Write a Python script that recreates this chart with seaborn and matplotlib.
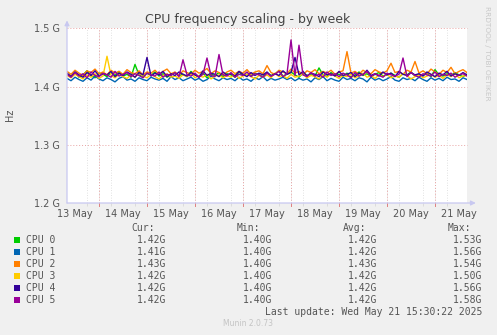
import numpy as np
import pandas as pd
import matplotlib
matplotlib.use("Agg")
import matplotlib.pyplot as plt
import matplotlib.dates as mdates
from matplotlib.patches import Rectangle
from matplotlib.ticker import FixedLocator
import seaborn as sns

# ---------------- data ----------------
cpu_names = ["CPU 0", "CPU 1", "CPU 2", "CPU 3", "CPU 4", "CPU 5"]
cpu_colors = ["#00CC00", "#0066B3", "#FF8000", "#FFCC00", "#330099", "#990099"]

start_time = "2025-05-13 08:00"
end_time = "2025-05-21 16:00"

# MHz, one sample every 2 hours
cpu0 = [1422, 1418, 1425, 1416, 1420, 1427, 1419, 1415, 1423, 1421,
        1417, 1424, 1419, 1426, 1418, 1421, 1416, 1438, 1420, 1417,
        1423, 1419, 1425, 1418, 1422, 1416, 1420, 1424, 1419, 1421,
        1417, 1426, 1420, 1418, 1423, 1415, 1421, 1419, 1424, 1417,
        1422, 1420, 1416, 1425, 1419, 1421, 1418, 1423, 1420, 1417,
        1424, 1419, 1422, 1427, 1418, 1421, 1425, 1420, 1416, 1423,
        1419, 1422, 1418, 1432, 1420, 1417, 1424, 1419, 1421, 1418,
        1423, 1416, 1420, 1425, 1419, 1422, 1417, 1421, 1424, 1418,
        1420, 1423, 1419, 1416, 1422, 1420, 1425, 1418, 1421, 1419,
        1423, 1417, 1429, 1420, 1418, 1422, 1419, 1424, 1420, 1417,
        1421]
cpu1 = [1414, 1410, 1416, 1412, 1409, 1415, 1411, 1418, 1413, 1410,
        1415, 1412, 1408, 1414, 1417, 1411, 1413, 1409, 1415, 1412,
        1410, 1416, 1413, 1411, 1414, 1409, 1417, 1412, 1415, 1410,
        1413, 1416, 1411, 1414, 1409, 1412, 1418, 1413, 1410, 1415,
        1412, 1414, 1410, 1416, 1411, 1413, 1409, 1415, 1412, 1417,
        1410, 1414, 1411, 1413, 1416, 1412, 1415, 1410, 1414, 1411,
        1413, 1408, 1415, 1412, 1417, 1410, 1414, 1411, 1409, 1416,
        1412, 1414, 1410, 1415, 1413, 1408, 1416, 1411, 1414, 1410,
        1413, 1417, 1411, 1409, 1415, 1412, 1414, 1410, 1416, 1412,
        1409, 1415, 1411, 1414, 1410, 1416, 1412, 1413, 1409, 1415,
        1412]
cpu2 = [1426, 1421, 1428, 1423, 1419, 1427, 1424, 1430, 1422, 1425,
        1420, 1428, 1423, 1426, 1421, 1429, 1424, 1422, 1427, 1420,
        1425, 1423, 1428, 1421, 1426, 1430, 1422, 1425, 1419, 1427,
        1424, 1421, 1428, 1423, 1426, 1431, 1422, 1427, 1424, 1420,
        1425, 1428, 1422, 1426, 1423, 1429, 1421, 1425, 1427, 1422,
        1436, 1424, 1421, 1428, 1425, 1422, 1430, 1423, 1426, 1420,
        1427, 1424, 1429, 1422, 1426, 1423, 1428, 1421, 1425, 1427,
        1460, 1423, 1426, 1421, 1428, 1424, 1422, 1429, 1425, 1423,
        1427, 1440, 1424, 1426, 1421, 1428, 1425, 1443, 1423, 1427,
        1422, 1430, 1425, 1421, 1428, 1424, 1433, 1422, 1426, 1429,
        1424]
cpu3 = [1419, 1415, 1421, 1417, 1413, 1420, 1416, 1422, 1414, 1418,
        1452, 1419, 1415, 1421, 1417, 1414, 1420, 1416, 1423, 1418,
        1415, 1421, 1417, 1413, 1419, 1422, 1416, 1418, 1414, 1420,
        1417, 1423, 1415, 1419, 1416, 1421, 1413, 1418, 1420, 1415,
        1419, 1416, 1422, 1414, 1418, 1421, 1417, 1413, 1419, 1416,
        1420, 1415, 1423, 1417, 1419, 1414, 1421, 1416, 1418, 1422,
        1415, 1419, 1417, 1413, 1420, 1416, 1422, 1418, 1414, 1419,
        1417, 1421, 1415, 1418, 1423, 1416, 1419, 1414, 1420, 1417,
        1421, 1415, 1418, 1416, 1422, 1419, 1413, 1417, 1420, 1415,
        1418, 1421, 1416, 1419, 1414, 1420, 1417, 1422, 1415, 1418,
        1419]
cpu4 = [1423, 1417, 1425, 1420, 1416, 1424, 1419, 1427, 1418, 1422,
        1420, 1426, 1417, 1423, 1419, 1425, 1421, 1416, 1424, 1420,
        1450, 1418, 1423, 1420, 1426, 1417, 1422, 1419, 1425, 1421,
        1418, 1424, 1420, 1416, 1427, 1419, 1423, 1421, 1417, 1425,
        1420, 1422, 1418, 1426, 1421, 1417, 1424, 1419, 1423, 1420,
        1425, 1418, 1422, 1419, 1427, 1421, 1424, 1450, 1420, 1426,
        1418, 1423, 1421, 1417, 1425, 1420, 1422, 1418, 1426, 1419,
        1421, 1424, 1417, 1423, 1420, 1428, 1419, 1422, 1418, 1425,
        1420, 1423, 1417, 1426, 1421, 1419, 1424, 1420, 1422, 1418,
        1425, 1421, 1417, 1423, 1420, 1426, 1418, 1422, 1419, 1424,
        1420]
cpu5 = [1421, 1416, 1424, 1418, 1422, 1415, 1425, 1419, 1417, 1423,
        1420, 1416, 1426, 1418, 1421, 1424, 1417, 1422, 1419, 1415,
        1423, 1420, 1418, 1425, 1416, 1421, 1419, 1424, 1417, 1446,
        1420, 1418, 1423, 1416, 1421, 1449, 1419, 1417, 1455, 1420,
        1418, 1424, 1416, 1421, 1419, 1425, 1417, 1422, 1420, 1416,
        1423, 1418, 1421, 1426, 1417, 1422, 1480, 1419, 1471, 1420,
        1417, 1424, 1418, 1421, 1416, 1425, 1419, 1422, 1417, 1423,
        1420, 1415, 1424, 1418, 1421, 1426, 1417, 1422, 1419, 1416,
        1423, 1420, 1418, 1421, 1449, 1417, 1424, 1419, 1416, 1422,
        1420, 1418, 1425, 1417, 1421, 1419, 1423, 1416, 1420, 1422,
        1418]

cur_vals = [1.42, 1.41, 1.43, 1.42, 1.42, 1.42]
min_vals = [1.40, 1.40, 1.40, 1.40, 1.40, 1.40]
avg_vals = [1.42, 1.42, 1.43, 1.42, 1.42, 1.42]
max_vals = [1.53, 1.56, 1.54, 1.50, 1.56, 1.58]

y_ticks = [1.2e9, 1.3e9, 1.4e9, 1.5e9]
y_tick_labels = ["1.2 G", "1.3 G", "1.4 G", "1.5 G"]

title = "CPU frequency scaling - by week"
last_update = "Last update: Wed May 21 15:30:22 2025"

# ---------------- build frame ----------------
series = [cpu0, cpu1, cpu2, cpu3, cpu4, cpu5]
times = pd.date_range(start_time, periods=len(cpu0), freq="2h")
frames = []
for name, vals in zip(cpu_names, series):
    frames.append(pd.DataFrame({"time": times,
                                "hz": np.array(vals, dtype=float) * 1e6,
                                "cpu": name}))
df = pd.concat(frames, ignore_index=True)

# ---------------- figure ----------------
W, H = 497, 335
BG = "#F0F0F0"
TXT = "#555555"
fig = plt.figure(figsize=(W / 100, H / 100), dpi=100, facecolor=BG)

def fx(px):
    return px / W

def fy(py):
    return 1 - py / H

ax_l, ax_r, ax_t, ax_b = 67, 467, 28.3, 203
ax = fig.add_axes([fx(ax_l), fy(ax_b), (ax_r - ax_l) / W, (ax_b - ax_t) / H])
ax.set_facecolor("white")

sns.lineplot(data=df, x="time", y="hz", hue="cpu", hue_order=cpu_names,
             palette=cpu_colors, linewidth=1.0, legend=False, ax=ax,
             zorder=3)

ax.set_xlim(pd.Timestamp(start_time), pd.Timestamp(end_time))
ax.set_ylim(y_ticks[0], y_ticks[-1])

for s in ax.spines.values():
    s.set_visible(False)

# y axis
ax.yaxis.set_major_locator(FixedLocator(y_ticks))
ax.set_yticklabels(y_tick_labels)
ax.tick_params(axis="y", length=0, pad=5, labelsize=7, labelcolor=TXT)
for yv in y_ticks[1:]:
    ax.axhline(yv, color="#e8a4a4", linewidth=0.7, linestyle=(0, (1, 2)),
               zorder=1, clip_on=False)

# x axis
ax.xaxis.set_major_locator(mdates.HourLocator(byhour=[12]))
ax.xaxis.set_major_formatter(mdates.DateFormatter("%d %b"))
ax.xaxis.set_minor_locator(mdates.HourLocator(byhour=[0, 6, 12, 18]))
ax.tick_params(axis="x", which="major", length=0, pad=4, labelsize=7,
               labelcolor=TXT)
ax.tick_params(axis="x", which="minor", length=2, width=0.6,
               color="#d8d8d8")
ax.grid(False)
ax.xaxis.grid(True, which="minor", color="#d8d8d8", linewidth=0.6,
              linestyle=(0, (1, 2)), zorder=1)
midnights = pd.date_range("2025-05-14", "2025-05-21", freq="D")
for m in midnights:
    ax.axvline(m, color="#e8a4a4", linewidth=0.7, linestyle=(0, (1, 2)),
               zorder=2)
    ax.plot([m, m], [-0.018, 0], color="#e08080", linewidth=0.7,
            transform=ax.get_xaxis_transform(), clip_on=False)

# axis arrows
axis_col = "#c8c8f0"
ax.annotate("", xy=(1.022, 0), xytext=(0, 0), xycoords="axes fraction",
            arrowprops=dict(arrowstyle="-|>", color=axis_col, lw=0.9,
                            mutation_scale=7, shrinkA=0, shrinkB=0),
            annotation_clip=False)
ax.annotate("", xy=(0, 1.045), xytext=(0, 0), xycoords="axes fraction",
            arrowprops=dict(arrowstyle="-|>", color=axis_col, lw=0.9,
                            mutation_scale=7, shrinkA=0, shrinkB=0),
            annotation_clip=False)

ax.set_xlabel("")
ax.set_ylabel("")

# title and side texts
fig.text(fx(248), fy(19), title, ha="center", va="center", fontsize=9,
         color="#444444", family="DejaVu Sans")
fig.text(fx(10), fy(115), "Hz", ha="center", va="center", fontsize=7,
         color=TXT, rotation=90)
fig.text(fx(487), fy(53), "RRDTOOL / TOBI OETIKER", ha="center",
         va="center", fontsize=5.3, color="#c8c8c8", rotation=270)

# legend table
mono = "DejaVu Sans Mono"
fs = 7
header_y = 227.7
fig.text(fx(154.5), fy(header_y), "Cur:", ha="right", va="center",
         fontsize=fs, family=mono, color=TXT)
fig.text(fx(260.5), fy(header_y), "Min:", ha="right", va="center",
         fontsize=fs, family=mono, color=TXT)
fig.text(fx(366), fy(header_y), "Avg:", ha="right", va="center",
         fontsize=fs, family=mono, color=TXT)
fig.text(fx(471), fy(header_y), "Max:", ha="right", va="center",
         fontsize=fs, family=mono, color=TXT)

col_x = [166.7, 272.7, 377.7, 482.7]
for i, name in enumerate(cpu_names):
    yy = 240 + 12 * i
    fig.patches.append(Rectangle((fx(14), fy(yy + 3)), 6 / W, 6 / H,
                                 transform=fig.transFigure,
                                 facecolor=cpu_colors[i], edgecolor="none"))
    fig.text(fx(26.3), fy(yy), name, ha="left", va="center", fontsize=fs,
             family=mono, color=TXT)
    for cx, arr in zip(col_x, [cur_vals, min_vals, avg_vals, max_vals]):
        fig.text(fx(cx), fy(yy), f"{arr[i]:.2f}G", ha="right", va="center",
                 fontsize=fs, family=mono, color=TXT)

fig.text(fx(482.7), fy(311.7), last_update, ha="right", va="center",
         fontsize=fs, family=mono, color=TXT)
fig.text(fx(248), fy(324), "Munin 2.0.73", ha="center", va="center",
         fontsize=5.5, color="#c4c4c4")

fig.savefig("out.png", dpi=100, facecolor=BG)
